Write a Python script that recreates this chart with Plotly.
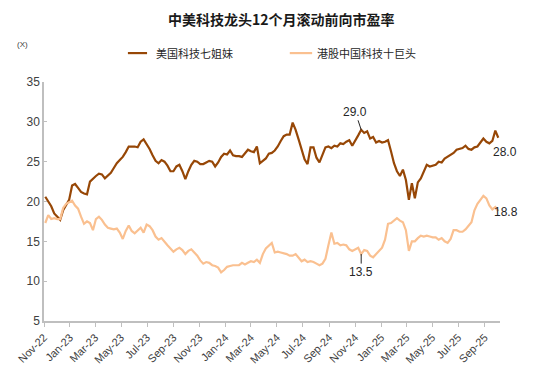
import pandas as pd
import plotly.graph_objects as go

# Weekly observation dates (Fridays)
dates = pd.date_range("2022-11-04", periods=153, freq="7D")

us_mag7 = [
    20.6, 20.0, 19.4, 18.5, 18.1, 17.7, 18.9, 19.5, 20.2, 22.0,
    22.2, 21.7, 21.2, 21.0, 20.9, 22.5, 22.9, 23.2, 23.5, 23.4,
    22.9, 23.3, 23.6, 24.2, 24.8, 25.2, 25.6, 26.2, 26.9, 26.9,
    26.9, 26.8, 27.5, 27.8, 27.2, 26.6, 25.8, 25.1, 24.8, 25.2,
    25.0, 24.5, 23.8, 23.8, 24.4, 24.6, 23.8, 22.8, 23.8, 24.6,
    25.1, 25.0, 24.7, 24.7, 24.9, 25.1, 25.0, 24.4, 24.9, 25.6,
    26.0, 25.9, 26.4, 25.8, 25.7, 25.7, 25.6, 26.0, 26.5, 26.3,
    26.2, 26.9, 24.8, 25.1, 25.4, 26.0, 26.1, 26.4, 26.9, 27.6,
    28.2, 28.4, 28.4, 29.9, 29.0, 27.8, 26.6, 25.3, 24.7, 26.8,
    26.8, 25.5, 24.9, 25.9, 26.8, 26.9, 26.7, 27.0, 26.9, 27.3,
    27.2, 27.5, 27.7, 27.0, 27.6, 28.3, 29.0, 28.6, 28.8, 27.9,
    28.1, 27.4, 27.6, 27.4, 27.5, 27.7, 26.3, 24.8, 23.8, 23.2,
    24.0, 22.7, 20.2, 22.3, 20.4, 22.4, 22.9, 23.7, 24.6, 24.4,
    24.5, 24.6, 25.0, 24.9, 25.4, 25.6, 25.9, 26.1, 26.5, 26.6,
    26.7, 27.0, 26.6, 26.5, 26.8, 26.9, 27.4, 27.9, 27.5, 27.3,
    27.6, 28.9, 28.0,
]

hk_top10 = [
    17.3, 18.3, 17.8, 17.9, 17.8, 17.8, 19.2, 19.7, 19.9, 20.1,
    19.5, 19.1, 18.1, 17.2, 17.5, 17.3, 16.4, 17.8, 18.1, 17.7,
    17.1, 16.7, 16.6, 16.5, 16.6, 16.1, 15.3, 16.3, 17.0, 16.3,
    16.0, 16.4, 16.7, 16.1, 17.1, 16.9, 16.4, 15.6, 15.2, 15.4,
    14.9, 14.5, 14.1, 13.7, 14.0, 14.2, 13.9, 13.4, 13.8, 14.0,
    13.6, 13.2, 12.6, 12.2, 12.4, 12.3, 12.0, 11.9, 11.7, 11.1,
    11.4, 11.8, 11.9, 12.0, 12.0, 12.0, 12.3, 12.1, 12.3, 12.5,
    12.4, 12.7, 12.3, 13.4, 14.1, 14.5, 14.8, 13.6, 13.7, 13.6,
    13.5, 13.4, 13.2, 13.2, 13.4, 12.9, 12.5, 12.7, 12.4, 12.5,
    12.4, 12.2, 12.0, 12.2, 12.8, 14.5, 16.1, 14.7, 14.8, 14.5,
    14.6, 14.5, 14.0, 13.8, 14.0, 14.2, 13.4, 13.9, 13.8, 13.2,
    13.0, 13.4, 13.9, 14.2, 15.2, 17.2, 17.3, 17.6, 17.9, 17.6,
    17.4, 16.4, 13.8, 15.0, 15.0, 15.4, 15.7, 15.6, 15.7, 15.6,
    15.5, 15.5, 15.2, 15.4, 15.0, 14.8, 15.3, 16.4, 16.4, 16.2,
    16.2, 16.5, 17.0, 17.4, 18.9, 19.7, 20.2, 20.7, 20.4, 19.5,
    19.0, 19.3, 18.8,
]

series_names = ["美国科技七姐妹", "港股中国科技十巨头"]
colors = ["#974706", "#FAC090"]
title_text = "中美科技龙头12个月滚动前向市盈率"

FONT = "Liberation Sans, Arial, Noto Sans CJK SC, sans-serif"
CJK = "Noto Sans CJK SC, Liberation Sans, sans-serif"

fig = go.Figure()
for name, vals, col in zip(series_names, [us_mag7, hk_top10], colors):
    fig.add_trace(go.Scatter(x=dates, y=vals, mode="lines", name=name,
                             line=dict(color=col, width=2.2), showlegend=False))

ann_font = dict(family=FONT, size=12, color="#262626")
annotations = [
    dict(x=dates[106], y=us_mag7[106], text="29.0", showarrow=True, arrowhead=0,
         arrowwidth=1, arrowcolor="#262626", ax=-6, ay=-18, font=ann_font),
    dict(x=dates[106], y=hk_top10[106], text="13.5", showarrow=True, arrowhead=0,
         arrowwidth=1, arrowcolor="#262626", ax=0, ay=18, font=ann_font),
    dict(x=dates[-1], y=us_mag7[-1], text="28.0", showarrow=False,
         xanchor="left", xshift=-7, yshift=-14, font=ann_font),
    dict(x=dates[-1], y=hk_top10[-1], text="18.8", showarrow=False,
         xanchor="left", xshift=-6, yshift=-1, font=ann_font),
    dict(xref="paper", yref="paper", x=-0.048, y=1.155, text="(X)", showarrow=False,
         xanchor="center", yanchor="middle", font=dict(family=FONT, size=8, color="#404040")),
]

# manual legend (line samples + labels) in paper coordinates
legend_y = 1.121
legend_items = [(0.184, 0.226, 0.241), (0.539, 0.588, 0.594)]
shapes = []
for (x0, x1, xt), name, col in zip(legend_items, series_names, colors):
    shapes.append(dict(type="line", xref="paper", yref="paper", x0=x0, x1=x1,
                       y0=legend_y, y1=legend_y, line=dict(color=col, width=2.2)))
    annotations.append(dict(xref="paper", yref="paper", x=xt, y=legend_y, text=name,
                            showarrow=False, xanchor="left", yanchor="middle",
                            font=dict(family=CJK, size=11, color="#262626")))

# page body adds an 8px offset, so the figure is 8px smaller and margins shifted
fig.update_layout(
    width=542, height=367,
    margin=dict(l=36, r=50, t=74, b=54, autoexpand=False),
    paper_bgcolor="white", plot_bgcolor="white",
    title=dict(text="<b>" + title_text + "</b>", x=0.504, xanchor="center",
               y=0.968, yanchor="middle",
               font=dict(family=CJK, size=14, color="#1a1a1a")),
    showlegend=False,
    annotations=annotations,
    shapes=shapes,
)

fig.update_xaxes(
    type="date", range=["2022-11-01", "2025-10-07"],
    tick0="2022-11-01", dtick="M2", tickformat="%b-%y", tickangle=-45,
    ticks="outside", ticklen=4, tickcolor="#bfbfbf",
    showline=True, linecolor="#bfbfbf", linewidth=1.5,
    showgrid=False, zeroline=False, automargin=False,
    tickfont=dict(family=FONT, size=11, color="#404040"),
)
fig.update_yaxes(
    range=[5, 35], dtick=5, ticks="inside", ticklen=3, tickcolor="#bfbfbf",
    showline=True, linecolor="#bfbfbf", linewidth=1.5,
    showgrid=False, zeroline=False, automargin=False,
    tickfont=dict(family=FONT, size=12, color="#404040"),
)

fig.write_html("out.html")
